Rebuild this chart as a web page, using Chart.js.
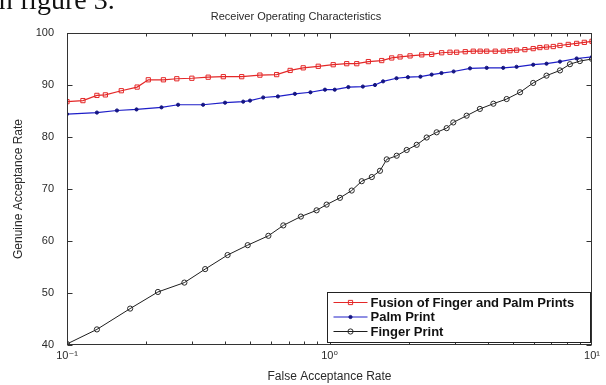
<!DOCTYPE html>
<html>
<head>
<meta charset="utf-8">
<script src="https://cdn.jsdelivr.net/npm/chart.js@4.4.1/dist/chart.umd.min.js"></script>
<style>
  html, body { margin: 0; padding: 0; background: #fff; overflow: hidden; }
  #wrap { position: relative; width: 606px; height: 385px; }
  #c { position: absolute; left: 0; top: 0; }
  #caption { position: absolute; left: -9px; top: -14px; font-family: 'Liberation Serif', serif; font-size: 28px; line-height: 27px; color: #111; white-space: nowrap; z-index: 2; }
</style>
</head>
<body>
<div id="wrap">
  <canvas id="c" width="606" height="385"></canvas>
  <div id="caption">in figure 3.</div>
</div>
<script>
// ---- text ----
const titleText = 'Receiver Operating Characteristics';
const xTitle = 'False Acceptance Rate';
const yTitle = 'Genuine Acceptance Rate';
const seriesNames = ['Fusion of Finger and Palm Prints', 'Palm Print', 'Finger Print'];

// ---- ticks ----
const xTickValues = [0.1, 1, 10];
const xTickLabels = ['10\u207B\u00B9', '10\u2070', '10\u00B9'];
const yTickValues = [40, 50, 60, 70, 80, 90, 100];

// ---- series: Fusion of Finger and Palm Prints ----
const fusionFar = [0.1, 0.115, 0.130, 0.140, 0.161, 0.185, 0.204, 0.233, 0.262, 0.299, 0.345, 0.394, 0.463, 0.543, 0.629, 0.708, 0.794, 0.906, 1.033, 1.163, 1.270, 1.406, 1.581, 1.726, 1.857, 2.027, 2.246, 2.450, 2.675, 2.877, 3.05, 3.29, 3.53, 3.75, 3.97, 4.28, 4.59, 4.87, 5.16, 5.55, 5.97, 6.33, 6.71, 7.12, 7.55, 8.12, 8.74, 9.35, 10];
const fusionGar = [86.8, 87.0, 88.0, 88.1, 88.9, 89.6, 91.0, 91.0, 91.2, 91.3, 91.5, 91.6, 91.6, 91.9, 92.0, 92.8, 93.3, 93.6, 93.9, 94.1, 94.1, 94.5, 94.7, 95.2, 95.4, 95.6, 95.8, 95.9, 96.2, 96.3, 96.3, 96.4, 96.5, 96.5, 96.5, 96.5, 96.5, 96.6, 96.7, 96.8, 97.0, 97.2, 97.3, 97.4, 97.6, 97.8, 98.0, 98.2, 98.4];

// ---- series: Palm Print ----
const palmFar = [0.1, 0.130, 0.155, 0.184, 0.229, 0.265, 0.330, 0.400, 0.469, 0.498, 0.559, 0.636, 0.738, 0.846, 0.961, 1.047, 1.18, 1.34, 1.49, 1.60, 1.80, 1.99, 2.22, 2.45, 2.67, 2.97, 3.43, 3.97, 4.59, 5.16, 5.97, 6.71, 7.55, 8.74, 10];
const palmGar = [84.4, 84.7, 85.1, 85.3, 85.7, 86.2, 86.2, 86.6, 86.8, 87.0, 87.6, 87.8, 88.3, 88.6, 89.1, 89.1, 89.6, 89.7, 90.0, 90.7, 91.3, 91.5, 91.6, 92.0, 92.3, 92.6, 93.2, 93.3, 93.3, 93.5, 93.9, 94.1, 94.5, 95.1, 95.4];

// ---- series: Finger Print ----
const fingerFar = [0.1, 0.130, 0.174, 0.222, 0.280, 0.336, 0.409, 0.488, 0.585, 0.667, 0.778, 0.893, 0.975, 1.096, 1.215, 1.327, 1.449, 1.557, 1.652, 1.803, 1.968, 2.149, 2.345, 2.560, 2.795, 2.962, 3.33, 3.74, 4.21, 4.73, 5.32, 5.97, 6.71, 7.55, 8.24, 8.99, 10];
const fingerGar = [40.2, 43.0, 47.0, 50.2, 52.0, 54.6, 57.3, 59.2, 61.0, 63.0, 64.7, 65.9, 67.0, 68.3, 69.7, 71.5, 72.3, 73.5, 75.7, 76.4, 77.5, 78.5, 79.9, 80.9, 81.7, 82.8, 84.1, 85.4, 86.4, 87.3, 88.6, 90.4, 91.8, 92.8, 94.0, 94.6, 95.0];

const toPoints = (xs, ys) => xs.map((x, i) => ({ x: x, y: ys[i] }));

const FONT = "'Liberation Sans', Arial, 'DejaVu Sans', sans-serif";
const TXT = '#2a2a2a';

// box with inward ticks (MATLAB style)
const boxPlugin = {
  id: 'matlabBox',
  afterDatasetsDraw(chart) {
    const { ctx, chartArea: a, scales: { x, y } } = chart;
    ctx.save();
    ctx.strokeStyle = '#333';
    ctx.lineWidth = 1;
    const L = Math.round(a.left) + 0.5, R = Math.round(a.right) - 0.5;
    const T = Math.round(a.top) + 0.5, B = Math.round(a.bottom) - 0.5;
    ctx.strokeRect(L, T, R - L, B - T);
    const seg = (x1, y1, x2, y2) => { ctx.beginPath(); ctx.moveTo(x1, y1); ctx.lineTo(x2, y2); ctx.stroke(); };
    yTickValues.forEach(v => {
      const py = Math.round(y.getPixelForValue(v)) + 0.5;
      seg(L, py, L + 5, py);
      seg(R - 5, py, R, py);
    });
    for (let d = -1; d < 1; d++) {
      for (let m = 1; m < 10; m++) {
        const v = m * Math.pow(10, d);
        const px = Math.round(x.getPixelForValue(v)) + 0.5;
        const len = m === 1 ? 5 : 3;
        seg(px, B, px, B - len);
        seg(px, T, px, T + len);
      }
    }
    ctx.restore();
  }
};

// legend inside the plot, lower right
const legendPlugin = {
  id: 'insideLegend',
  afterDatasetsDraw(chart) {
    const { ctx, chartArea: a } = chart;
    const w = 263, h = 50;
    const bx = Math.round(a.right) - 2 - w + 0.5;
    const by = Math.round(a.bottom) - 3 - h + 0.5;
    ctx.save();
    ctx.fillStyle = '#fff';
    ctx.fillRect(bx, by, w, h);
    ctx.strokeStyle = '#222';
    ctx.lineWidth = 1;
    ctx.strokeRect(bx, by, w, h);
    ctx.font = 'bold 13px ' + FONT;
    ctx.textBaseline = 'middle';
    chart.data.datasets.forEach((ds, i) => {
      const cy = by + 10 + i * 14.5;
      ctx.strokeStyle = ds.borderColor;
      ctx.lineWidth = 1;
      ctx.beginPath(); ctx.moveTo(bx + 6, cy); ctx.lineTo(bx + 40, cy); ctx.stroke();
      ctx.strokeStyle = ds.pointBorderColor;
      ctx.fillStyle = ds.pointBackgroundColor;
      Chart.helpers.drawPoint(ctx, {
        pointStyle: ds.pointStyle, radius: ds.pointRadius, rotation: 0, borderWidth: 1
      }, bx + 23, cy);
      ctx.fillStyle = '#111';
      ctx.fillText(ds.label, bx + 43, cy + 0.5);
    });
    ctx.restore();
  }
};

new Chart(document.getElementById('c'), {
  type: 'line',
  data: {
    datasets: [
      {
        label: seriesNames[0], data: toPoints(fusionFar, fusionGar),
        borderColor: 'rgb(228,40,40)', backgroundColor: 'rgba(0,0,0,0)',
        pointBorderColor: 'rgb(228,40,40)', pointBackgroundColor: 'rgba(255,255,255,0)',
        borderWidth: 1.2, pointStyle: 'rect', pointRadius: 3, pointBorderWidth: 1, tension: 0
      },
      {
        label: seriesNames[1], data: toPoints(palmFar, palmGar),
        borderColor: 'rgb(30,30,200)', backgroundColor: 'rgb(20,20,120)',
        pointBorderColor: 'rgb(20,20,130)', pointBackgroundColor: 'rgb(20,20,130)',
        borderWidth: 1.2, pointStyle: 'circle', pointRadius: 1.6, pointBorderWidth: 1, tension: 0
      },
      {
        label: seriesNames[2], data: toPoints(fingerFar, fingerGar),
        borderColor: 'rgb(30,30,30)', backgroundColor: 'rgba(0,0,0,0)',
        pointBorderColor: 'rgb(40,40,40)', pointBackgroundColor: 'rgba(255,255,255,0)',
        borderWidth: 1, pointStyle: 'circle', pointRadius: 2.6, pointBorderWidth: 1, tension: 0
      }
    ]
  },
  options: {
    responsive: false,
    animation: false,
    devicePixelRatio: 1,
    layout: { padding: { left: 0, right: 14, top: 0, bottom: 0 } },
    plugins: {
      legend: { display: false },
      tooltip: { enabled: false },
      title: {
        display: true, text: titleText, color: TXT,
        font: { family: FONT, size: 11, weight: 'normal', lineHeight: '13px' },
        padding: { top: 10, bottom: 10 }
      }
    },
    scales: {
      x: {
        type: 'logarithmic', min: 0.1, max: 10,
        grid: { display: false, drawTicks: false },
        border: { display: false },
        afterBuildTicks: s => { s.ticks = xTickValues.map(v => ({ value: v })); },
        ticks: {
          autoSkip: false, maxRotation: 0, padding: 4, color: TXT,
          font: { family: FONT, size: 11 },
          callback: v => { const i = xTickValues.findIndex(t => Math.abs(t - v) < 1e-9); return i >= 0 ? xTickLabels[i] : ''; }
        },
        title: {
          display: true, text: xTitle, color: TXT,
          font: { family: FONT, size: 12 }, padding: { top: 0, bottom: 1 }
        },
        afterFit: s => { s.height = 40; }
      },
      y: {
        type: 'linear', min: 40, max: 100,
        grid: { display: false, drawTicks: false },
        border: { display: false },
        afterBuildTicks: s => { s.ticks = yTickValues.map(v => ({ value: v })); },
        ticks: { padding: 13, color: TXT, font: { family: FONT, size: 11 } },
        title: {
          display: true, text: yTitle, color: TXT,
          font: { family: FONT, size: 12 }, padding: { top: 11, bottom: 0 }
        },
        afterFit: s => { s.width = 67; }
      }
    }
  },
  plugins: [boxPlugin, legendPlugin]
});
</script>
</body>
</html>
